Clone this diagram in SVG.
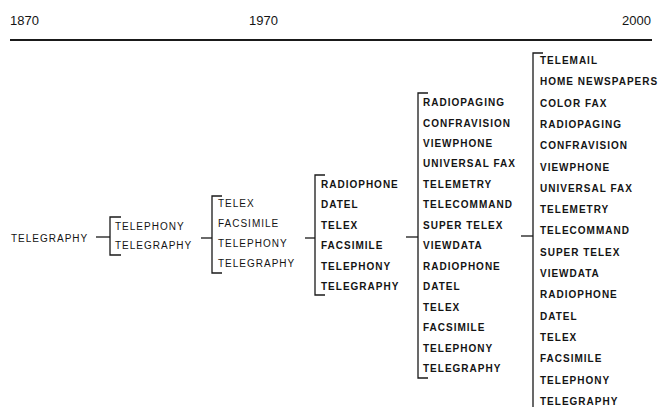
<svg xmlns="http://www.w3.org/2000/svg" width="662" height="407" viewBox="0 0 662 407">
<style>
text{font-family:"Liberation Sans",Arial,sans-serif;fill:#141414;}
.yr{font-size:13px;}
.r{font-size:10px;letter-spacing:1px;}
.b{font-size:10px;font-weight:bold;letter-spacing:1px;}
.br,.cn{fill:none;stroke:#1a1a1a;stroke-width:1.3;}
.axis{stroke:#1a1a1a;stroke-width:2;}
</style>
<rect width="662" height="407" fill="#fff"/>
<g id="timeline">
<text class="yr" x="10" y="25">1870</text>
<text class="yr" x="249" y="25">1970</text>
<text class="yr" x="651" y="25" text-anchor="end">2000</text>
<line class="axis" x1="10" y1="40" x2="652" y2="40"/>
</g>
<g id="connectors">
<line class="cn" x1="96" y1="237" x2="110" y2="237"/>
<line class="cn" x1="201" y1="238" x2="212" y2="238"/>
<line class="cn" x1="305" y1="238" x2="315" y2="238"/>
<line class="cn" x1="406" y1="237" x2="418" y2="237"/>
<line class="cn" x1="521" y1="236" x2="533" y2="236"/>
</g>
<g id="col0">
<text class="r" x="11" y="242">TELEGRAPHY</text>
</g>
<g id="col1">
<path class="br" d="M121,217H110V255H121"/>
<text class="r" x="115" y="230">TELEPHONY</text>
<text class="r" x="115" y="249">TELEGRAPHY</text>
</g>
<g id="col2">
<path class="br" d="M222,196H212V273H222"/>
<text class="r" x="218" y="207">TELEX</text>
<text class="r" x="218" y="227">FACSIMILE</text>
<text class="r" x="218" y="247">TELEPHONY</text>
<text class="r" x="218" y="267">TELEGRAPHY</text>
</g>
<g id="col3">
<path class="br" d="M325,175H315V295H325"/>
<text class="b" x="321" y="188">RADIOPHONE</text>
<text class="b" x="321" y="208">DATEL</text>
<text class="b" x="321" y="229">TELEX</text>
<text class="b" x="321" y="249">FACSIMILE</text>
<text class="b" x="321" y="270">TELEPHONY</text>
<text class="b" x="321" y="290">TELEGRAPHY</text>
</g>
<g id="col4">
<path class="br" d="M428,93H418V378H428"/>
<text class="b" x="423" y="106">RADIOPAGING</text>
<text class="b" x="423" y="126.5">CONFRAVISION</text>
<text class="b" x="423" y="147">VIEWPHONE</text>
<text class="b" x="423" y="167.4">UNIVERSAL FAX</text>
<text class="b" x="423" y="187.8">TELEMETRY</text>
<text class="b" x="423" y="208.3">TELECOMMAND</text>
<text class="b" x="423" y="228.8">SUPER TELEX</text>
<text class="b" x="423" y="249.2">VIEWDATA</text>
<text class="b" x="423" y="269.7">RADIOPHONE</text>
<text class="b" x="423" y="290.1">DATEL</text>
<text class="b" x="423" y="310.6">TELEX</text>
<text class="b" x="423" y="331.1">FACSIMILE</text>
<text class="b" x="423" y="351.5">TELEPHONY</text>
<text class="b" x="423" y="372">TELEGRAPHY</text>
</g>
<g id="col5">
<path class="br" d="M543,53H533V407"/>
<text class="b" x="540" y="64">TELEMAIL</text>
<text class="b" x="540" y="85.3">HOME NEWSPAPERS</text>
<text class="b" x="540" y="106.6">COLOR FAX</text>
<text class="b" x="540" y="127.9">RADIOPAGING</text>
<text class="b" x="540" y="149.2">CONFRAVISION</text>
<text class="b" x="540" y="170.5">VIEWPHONE</text>
<text class="b" x="540" y="191.8">UNIVERSAL FAX</text>
<text class="b" x="540" y="213.1">TELEMETRY</text>
<text class="b" x="540" y="234.4">TELECOMMAND</text>
<text class="b" x="540" y="255.7">SUPER TELEX</text>
<text class="b" x="540" y="277">VIEWDATA</text>
<text class="b" x="540" y="298.3">RADIOPHONE</text>
<text class="b" x="540" y="319.6">DATEL</text>
<text class="b" x="540" y="340.9">TELEX</text>
<text class="b" x="540" y="362.2">FACSIMILE</text>
<text class="b" x="540" y="383.5">TELEPHONY</text>
<text class="b" x="540" y="404.8">TELEGRAPHY</text>
</g>
</svg>
